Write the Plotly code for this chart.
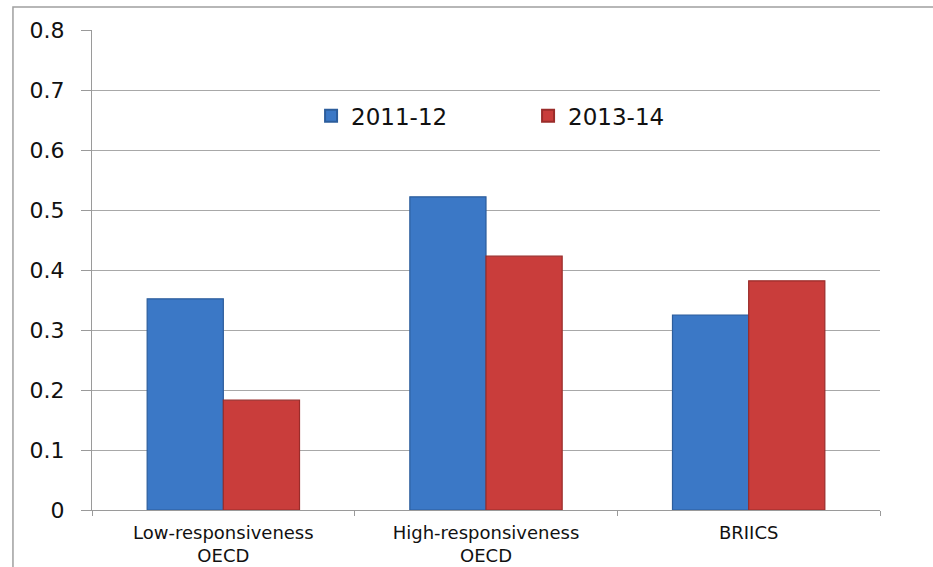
import plotly.graph_objects as go

categories = ["Low-responsiveness<br>OECD", "High-responsiveness<br>OECD", "BRIICS"]
series_2011_12 = [0.352, 0.522, 0.325]
series_2013_14 = [0.183, 0.423, 0.382]
y_ticks = [0, 0.1, 0.2, 0.3, 0.4, 0.5, 0.6, 0.7, 0.8]
y_labels = ["0", "0.1", "0.2", "0.3", "0.4", "0.5", "0.6", "0.7", "0.8"]

fig = go.Figure()
fig.add_trace(go.Bar(
    name="2011-12", x=categories, y=series_2011_12,
    marker=dict(color="#3b78c6", line=dict(color="#2c5d9c", width=1.2)),
))
fig.add_trace(go.Bar(
    name="2013-14", x=categories, y=series_2013_14,
    marker=dict(color="#c93d3b", line=dict(color="#9a2c2a", width=1.2)),
))

fig.update_layout(
    width=933, height=567,
    margin=dict(l=92, r=53, t=30, b=57),
    paper_bgcolor="white", plot_bgcolor="white",
    barmode="group", bargap=0.42, bargroupgap=0.0,
    font=dict(family="DejaVu Sans", color="#111111"),
    showlegend=True,
    legend=dict(
        orientation="h", x=0.278, y=0.821, xanchor="left", yanchor="middle",
        font=dict(size=23, family="DejaVu Sans", color="#111111"),
        entrywidth=172, entrywidthmode="pixels",
        bgcolor="rgba(0,0,0,0)", itemsizing="constant",
    ),
    xaxis=dict(
        automargin=False,
        showgrid=False, showline=True, linecolor="#9a9a9a", linewidth=1.2,
        ticks="outside", ticklen=5, tickcolor="#9a9a9a", tickson="boundaries",
        tickfont=dict(size=18, family="DejaVu Sans", color="#111111"),
        ticklabelstandoff=6,
    ),
    yaxis=dict(
        automargin=False,
        range=[0, 0.8], tickvals=y_ticks, ticktext=y_labels,
        showgrid=True, gridcolor="#a8a8a8", gridwidth=1.2,
        showline=True, linecolor="#9a9a9a", linewidth=1.2,
        ticks="outside", ticklen=10, tickcolor="#9a9a9a",
        tickfont=dict(size=22, family="DejaVu Sans", color="#111111"),
        ticklabelstandoff=12,
        zeroline=False,
    ),
    shapes=[
        # outer chart frame
        dict(type="rect", xref="paper", yref="paper",
             x0=-0.1003, x1=1.2, y0=-0.3, y1=1.048,
             line=dict(color="#a0a0a0", width=1.5), fillcolor="rgba(0,0,0,0)",
             layer="below"),
    ],
)

fig.write_html("out.html")
